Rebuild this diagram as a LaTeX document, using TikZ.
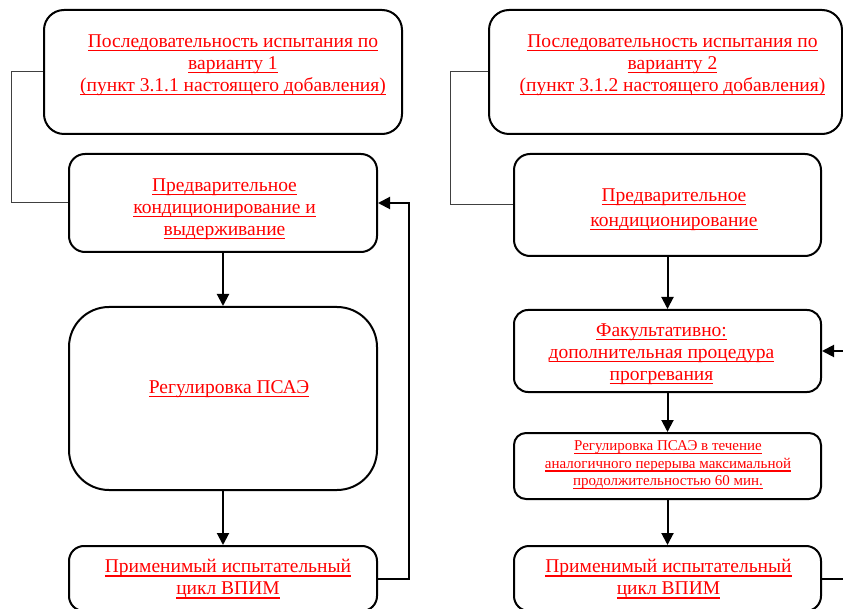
\documentclass[tikz,border=0pt]{standalone}
\usepackage{fontspec}
\setmainfont{Liberation Serif}
\usetikzlibrary{arrows.meta}
\newcommand{\ulx}[1]{\setbox0\hbox{#1}\rlap{\rule[-4pt]{\wd0}{1.7pt}}\box0}
\newcommand{\ulsm}[1]{\setbox0\hbox{#1}\rlap{\rule[-3.2pt]{\wd0}{1.3pt}}\box0}
\definecolor{txtred}{RGB}{255,0,0}
\tikzset{
  box/.style={draw=black, line width=2pt, rounded corners=#1, inner sep=0pt},
  box/.default=16pt,
  txt/.style={text=txtred, align=center, inner sep=0pt, font=\fontsize{19.5}{22}\selectfont},
  widetxt/.style={txt, font=\fontsize{19.5}{25}\selectfont},
  smalltxt/.style={text=txtred, align=center, inner sep=0pt, font=\fontsize{15}{17.5}\selectfont},
  arr/.style={line width=2pt, -{Triangle[length=12pt,width=12pt]}},
  flow/.style={line width=2pt},
  thin/.style={draw=black!75, line width=1pt}
}
\newcommand{\boxat}[6]{% name, x1, y1, x2, y2, radius
  \node[box=#6, minimum width=#4pt-#2pt, minimum height=#5pt-#3pt] (#1) at ({(#2+#4)/2},{(#3+#5)/2}) {};}
\begin{document}
\begin{tikzpicture}[x=1pt,y=-1pt]
\useasboundingbox (0,0) rectangle (843,609);
% left column
\boxat{A1}{44}{10}{402}{134}{20pt}
\boxat{B1}{69}{154}{377}{252}{16pt}
\boxat{C1}{69}{307}{377}{490}{40pt}
\boxat{D1}{69}{546}{377}{611}{15pt}
% right column
\boxat{A2}{489}{10}{842}{134}{20pt}
\boxat{B2}{514}{154}{821}{256}{16pt}
\boxat{C2}{514}{310}{821}{392}{14pt}
\boxat{D2}{514}{433}{821}{499}{12pt}
\boxat{E2}{514}{546}{821}{611}{15pt}
% texts
\node[txt] (tA1) at (233,65) {\ulx{Последовательность испытания по}\\\ulx{варианту 1}\\\ulx{(пункт 3.1.1 настоящего добавления)}};
\node[txt] (tB1) at (224.5,209) {\ulx{Предварительное}\\\ulx{кондиционирование и}\\\ulx{выдерживание}};
\node[txt] (tC1) at (229,389) {\ulx{Регулировка ПСАЭ}};
\node[txt] (tD1) at (228,579) {\ulx{Применимый испытательный}\\\ulx{цикл ВПИМ}};
\node[txt] (tA2) at (672.5,65) {\ulx{Последовательность испытания по}\\\ulx{варианту 2}\\\ulx{(пункт 3.1.2 настоящего добавления)}};
\node[widetxt] (tB2) at (674,209.5) {\ulx{Предварительное}\\\ulx{кондиционирование}};
\node[txt] (tC2) at (661.5,354) {\ulx{Факультативно:}\\\ulx{дополнительная процедура}\\\ulx{прогревания}};
\node[smalltxt] (tD2) at (668,465) {\ulsm{Регулировка ПСАЭ в течение}\\\ulsm{аналогичного перерыва максимальной}\\\ulsm{продолжительностью 60 мин.}};
\node[txt] (tE2) at (668.5,579) {\ulx{Применимый испытательный}\\\ulx{цикл ВПИМ}};
% connectors left
\draw[arr] (B1.south) -- (C1.north);
\draw[arr] (C1.south) -- (D1.north);
\draw[arr] (D1.east) -- ++(31,0) |- (B1.east);
\draw[thin] (A1.west) -- ++(-32,0) |- (B1.west);
% connectors right
\draw[arr] (B2.south -| C2.north) -- (C2.north);
\draw[arr] (C2.south) -- (D2.north);
\draw[arr] (D2.south) -- (E2.north);
\coordinate (rx) at (860,0);
\draw[flow] (E2.east) -- (E2.east -| rx);
\draw[arr] (C2.east -| rx) -- (C2.east);
\draw[thin] (A2.west) -- ++(-38,0) |- (B2.west);
\end{tikzpicture}
\end{document}
